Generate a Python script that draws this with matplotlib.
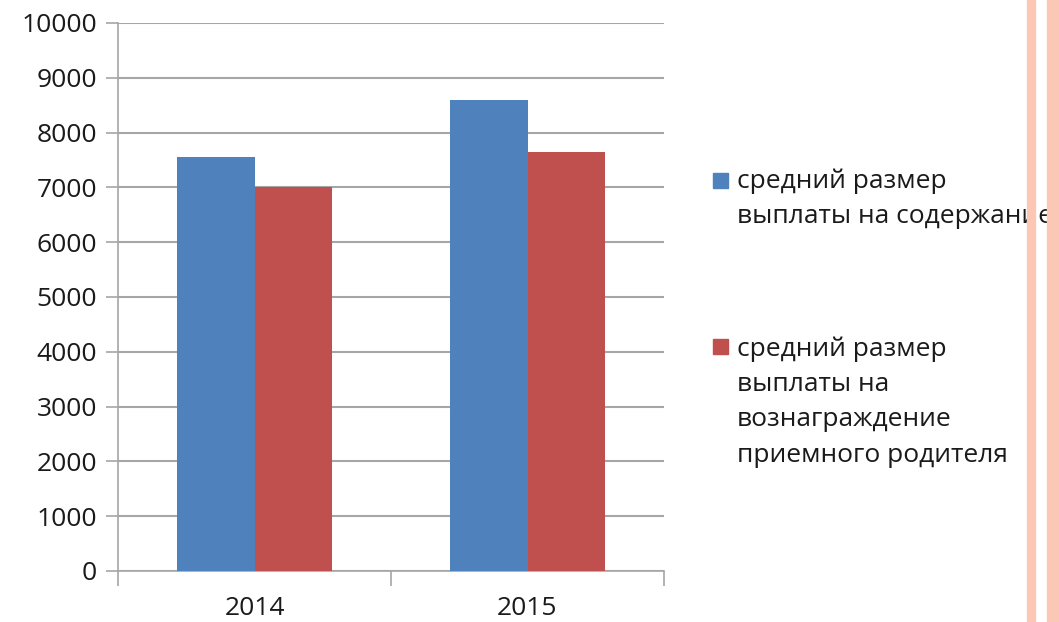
import numpy as np
import matplotlib.pyplot as plt
from matplotlib.patches import Rectangle

plt.rcParams['font.family'] = ['Open Sans', 'DejaVu Sans']

# data
years = ['2014', '2015']
upkeep = [7550, 8590]      # средний размер выплаты на содержание
reward = [7000, 7640]      # средний размер выплаты на вознаграждение
labels = ['средний размер\nвыплаты на содержание',
          'средний размер\nвыплаты на\nвознаграждение\nприемного родителя']
colors = ['#4F81BD', '#C0504D']

W, H = 1059, 622
fig = plt.figure(figsize=(W/100, H/100), dpi=100)
ax = fig.add_axes([118/W, 1-571/H, (664-118)/W, (571-23)/H])

x = np.arange(len(years))
bw = 0.284
ax.bar(x - bw/2, upkeep, bw, color=colors[0], zorder=3)
ax.bar(x + bw/2, reward, bw, color=colors[1], zorder=3)

ax.set_xlim(-0.5, 1.5)
ax.set_ylim(0, 10000)
ax.set_yticks(np.arange(0, 10001, 1000))
ax.grid(axis='y', color='#A6A6A6', linewidth=1.5, zorder=0)
ax.set_xticks(x)
ax.set_xticklabels(years)
ax.set_xticks([-0.5, 0.5, 1.5], minor=True)
ax.tick_params(axis='x', which='major', length=0, pad=18, labelsize=19, labelcolor='#1a1a1a')
ax.tick_params(axis='x', which='minor', length=11, width=1.2, color='#A6A6A6')
ax.tick_params(axis='y', length=9, width=1.2, color='#A6A6A6', labelsize=19, pad=6, labelcolor='#1a1a1a')
for s in ['top', 'right']:
    ax.spines[s].set_visible(False)
for s in ['left', 'bottom']:
    ax.spines[s].set_color('#A6A6A6')
    ax.spines[s].set_linewidth(1.2)

# legend drawn by hand
legend_y = [199, 402]
square_y = [173, 339]
for i in range(2):
    fig.patches.append(Rectangle((713/W, 1-(square_y[i]+15)/H), 15/W, 15/H,
                                 transform=fig.transFigure, color=colors[i]))
    fig.text(737/W, 1-legend_y[i]/H, labels[i], fontsize=19, va='center', ha='left',
             linespacing=1.55, color='#1a1a1a')

# decorative stripes on the right
for x0, x1 in [(1027, 1035), (1047, 1059)]:
    fig.patches.append(Rectangle((x0/W, 0), (x1-x0)/W, 1, transform=fig.transFigure,
                                 color='#FCC8B6', zorder=10))

plt.savefig('out.png', dpi=100)
